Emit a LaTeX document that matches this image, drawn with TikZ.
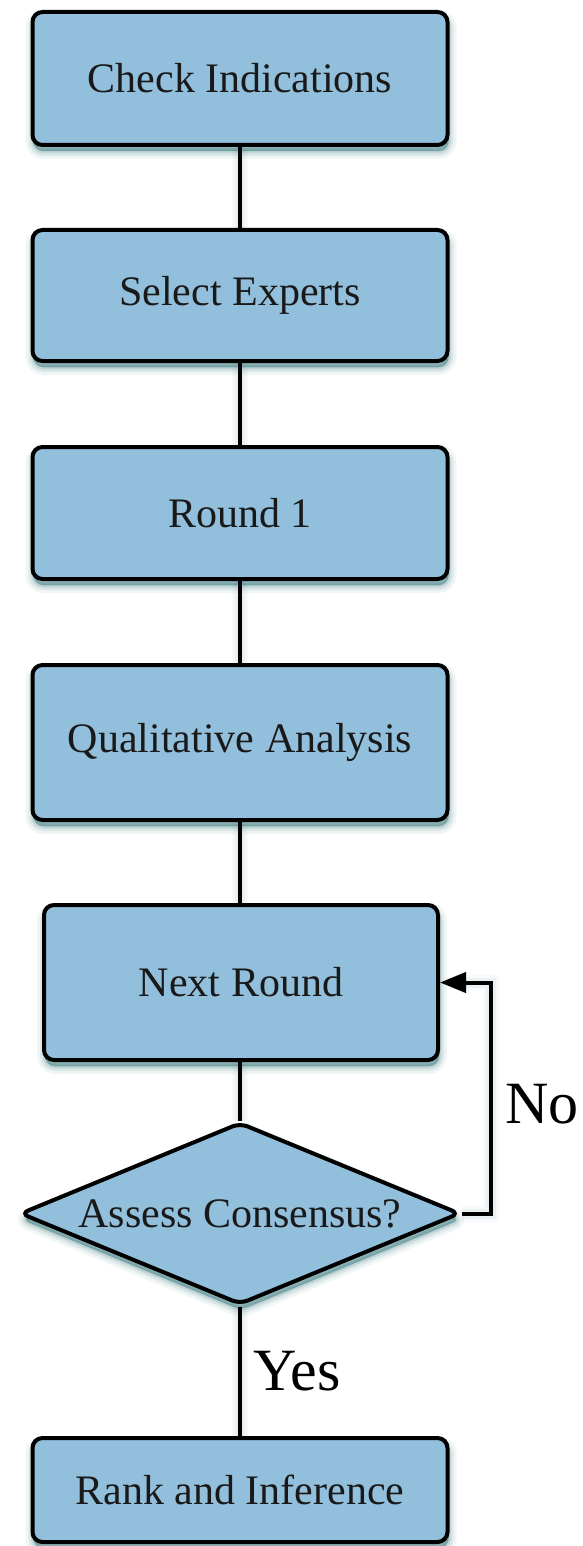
\documentclass[tikz,border=0pt]{standalone}
\usepackage{fontspec}
\setmainfont{Liberation Serif}
\usetikzlibrary{shapes.geometric,arrows.meta}
\definecolor{boxfill}{RGB}{146,191,219}
\definecolor{shcol}{RGB}{40,110,115}
\tikzset{
  myshadow/.style={
    preaction={draw=shcol,fill=shcol,line width=16pt,opacity=0.07,transform canvas={xshift=1pt,yshift=-6pt}},
    preaction={draw=shcol,fill=shcol,line width=10pt,opacity=0.10,transform canvas={xshift=1pt,yshift=-6pt}},
    preaction={draw=shcol,fill=shcol,line width=5pt,opacity=0.15,transform canvas={xshift=1pt,yshift=-6pt}},
    preaction={draw=shcol,fill=shcol,line width=1pt,opacity=0.2,transform canvas={xshift=1pt,yshift=-6pt}}},
  glow/.style={
    preaction={draw=shcol,line width=16pt,opacity=0.04},
    preaction={draw=shcol,line width=10pt,opacity=0.06}},
  stepbox/.style={draw=black,line width=4pt,fill=boxfill,rounded corners=10pt,
    minimum width=415pt,inner sep=0pt,font=\fontsize{42}{50}\selectfont,text=black!90,myshadow},
  decisionbox/.style={draw=black,line width=4pt,fill=boxfill,shape=diamond,aspect=2.38,
    minimum width=440pt,minimum height=182pt,inner sep=0pt,rounded corners=8pt,
    font=\fontsize{42}{50}\selectfont,text=black!90,myshadow},
  conn/.style={line width=4pt,draw=black},
  biglabel/.style={font=\fontsize{60}{70}\selectfont,anchor=west,inner sep=0pt}
}
\begin{document}
\begin{tikzpicture}[x=1pt,y=-1pt]
\useasboundingbox (0,0) rectangle (582,1546);
\coordinate (nc) at (491,1213.5);
\node[stepbox,minimum height=133pt] (b1) at (240,78.5) {Check Indications};
\node[stepbox,minimum height=131pt] (b2) at (240,295.5) {Select Experts};
\node[stepbox,minimum height=132pt] (b3) at (240,513) {Round 1};
\node[stepbox,minimum height=155pt] (b4) at (240,742.5) {Qualitative Analysis};
\node[stepbox,minimum height=155pt,minimum width=394pt] (b5) at (241,982.5) {Next Round};
\node[decisionbox] (d) at (240,1213.5) {Assess Consensus?};
\node[stepbox,minimum height=104pt] (b6) at (240,1490) {Rank and Inference};
\draw[conn,glow] (b1.south) -- (b2.north);
\draw[conn,glow] (b2.south) -- (b3.north);
\draw[conn,glow] (b3.south) -- (b4.north);
\draw[conn,glow] (b4.south) -- (b5.north -| b4.south);
\draw[conn,glow] (b5.south -| d.north) -- (d.north);
\draw[conn,glow] (d.south) -- (b6.north);
\draw[conn,glow,-{Triangle[length=26pt,width=20pt]}] (d.east) -- (nc) |- (b5.east);
\node[biglabel] (no) at (505,1104) {No};
\node[biglabel] (yes) at (253,1371) {Yes};
\end{tikzpicture}
\end{document}
